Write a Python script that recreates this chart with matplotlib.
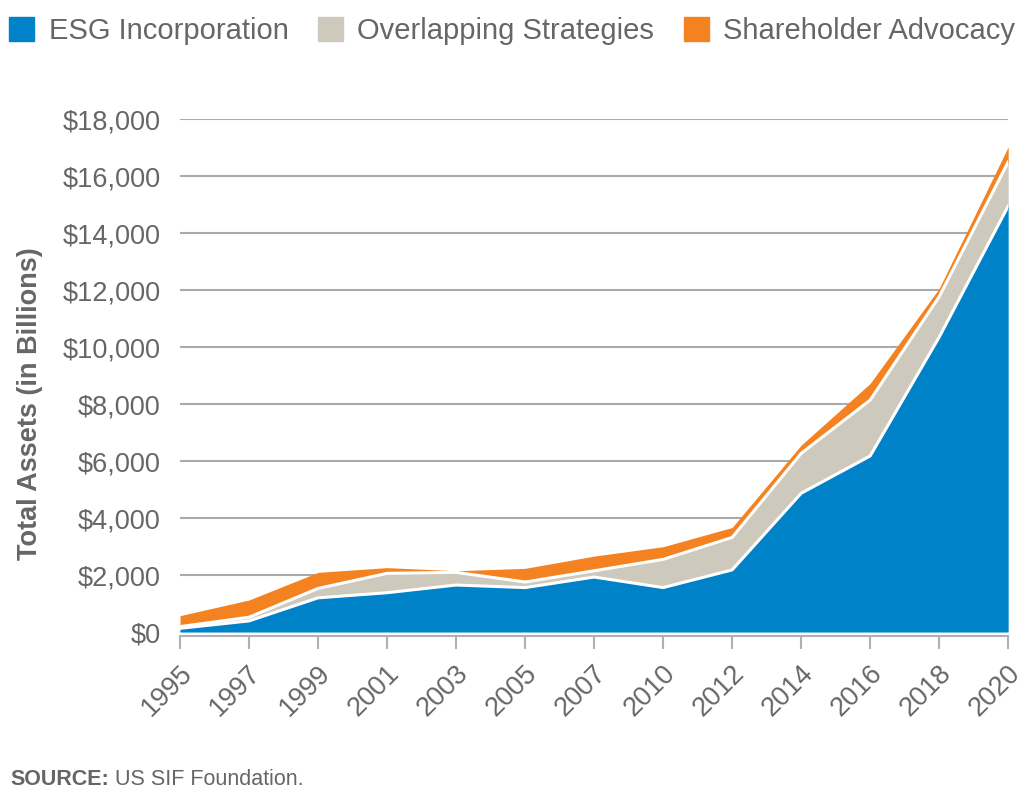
import numpy as np
import matplotlib.pyplot as plt
import matplotlib.transforms as mtransforms
from matplotlib.patches import Patch

plt.rcParams['font.family'] = ['Liberation Sans', 'DejaVu Sans']

years = ['1995', '1997', '1999', '2001', '2003', '2005', '2007',
         '2010', '2012', '2014', '2016', '2018', '2020']
# layer thicknesses, $ billions
esg = [130, 390, 1200, 1380, 1650, 1560, 1930, 1560, 2180, 4870, 6180, 10350, 14950]
overlap = [60, 130, 330, 680, 445, 195, 220, 990, 1140, 1400, 1960, 1420, 1550]
advocacy = [385, 605, 565, 200, 55, 480, 515, 445, 350, 290, 585, 290, 530]

blue = '#0082c8'
grey = '#cec9bd'
orange = '#f58220'
txt = '#666666'

x = np.arange(len(years))
esg = np.array(esg)
top1 = esg + np.array(overlap)
top2 = top1 + np.array(advocacy)

fig = plt.figure(figsize=(10.3, 7.95), dpi=100)
ax = fig.add_axes([0.1748, 0.205, 0.804, 0.645])

ax.fill_between(x, 0, esg, color=blue, lw=0, zorder=2)
ax.fill_between(x, esg, top1, color=grey, lw=0, zorder=2)
ax.fill_between(x, top1, top2, color=orange, lw=0, zorder=2)
ax.plot(x, esg, color='white', lw=2.2, zorder=3)
ax.plot(x, top1, color='white', lw=2.2, zorder=3)

ax.set_xlim(0, 12)
ax.set_ylim(0, 18000)
ax.set_yticks(np.arange(0, 18001, 2000))
ax.set_yticklabels(['${:,}'.format(v) for v in range(0, 18001, 2000)])
ax.set_xticks(x)
ax.set_xticklabels(years)

ax.grid(axis='y', color='#aaaaaa', lw=1.5, zorder=0)
ax.set_axisbelow(True)
for s in ['left', 'right', 'top']:
    ax.spines[s].set_visible(False)
ax.spines['bottom'].set_color('#b0b0b0')
ax.spines['bottom'].set_linewidth(1.5)
ax.spines['bottom'].set_position(('outward', 3))
ax.tick_params(axis='y', length=0, pad=14, labelsize=19.5, labelcolor=txt)
ax.tick_params(axis='x', length=9, width=1.5, color='#b0b0b0', pad=10,
               labelsize=19.5, labelcolor=txt, labelrotation=45)
shift = mtransforms.ScaledTranslation(8 / 100, -7 / 100, fig.dpi_scale_trans)
for lab in ax.get_xticklabels():
    lab.set_ha('right')
    lab.set_va('center')
    lab.set_rotation_mode('anchor')
    lab.set_transform(lab.get_transform() + shift)

ax.set_ylabel('Total Assets (in Billions)', fontsize=19.5, fontweight='bold',
              color=txt)
ax.yaxis.set_label_coords(-0.165, 0.445)

handles = [Patch(color=blue, label='ESG Incorporation'),
           Patch(color=grey, label='Overlapping Strategies'),
           Patch(color=orange, label='Shareholder Advocacy')]
fig.legend(handles=handles, loc='upper left', bbox_to_anchor=(-0.011, 1.004),
           ncol=3, frameon=False, fontsize=21, labelcolor=txt,
           handlelength=0.86, handleheight=0.9, handletextpad=0.5,
           columnspacing=1.0, borderaxespad=0.3)

t1 = fig.text(0.01, 0.012, 'SOURCE:', fontsize=15.5, fontweight='bold', color=txt)
ax.annotate('US SIF Foundation.', xy=(1, 0), xycoords=t1, xytext=(4, 0),
            textcoords='offset points', fontsize=15.5, color=txt,
            ha='left', va='bottom')

fig.savefig('out.png', dpi=100)
